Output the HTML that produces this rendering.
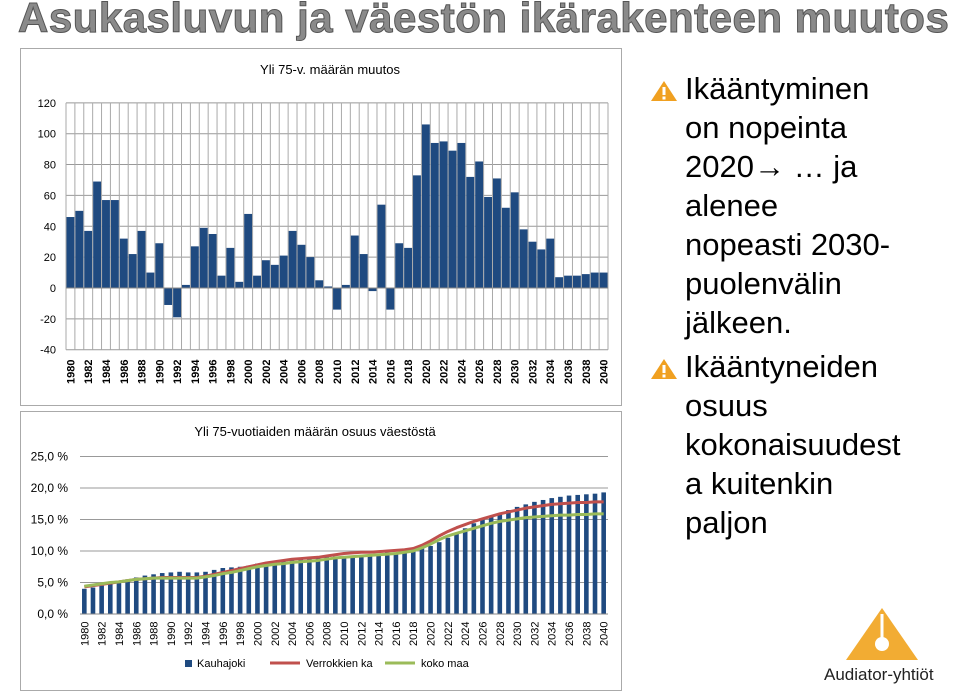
<!DOCTYPE html>
<html><head><meta charset="utf-8"><style>
body{margin:0;width:960px;height:691px;overflow:hidden;background:#fff;font-family:"Liberation Sans",sans-serif;position:relative}
.title{position:absolute;left:18px;top:-6px;font-size:42px;font-weight:bold;color:#8a8a8a;-webkit-text-stroke:1px #555;letter-spacing:0.5px;white-space:nowrap}
.frame{position:absolute;border:1px solid #aaa;background:#fff}
.bul{position:absolute;left:650px;font-size:31px;line-height:39px;color:#000;width:300px}
.warn{position:absolute;left:650px;width:28px;height:22px}
svg text{font-family:"Liberation Sans",sans-serif}
</style></head><body>
<div class="title">Asukasluvun ja väestön ikärakenteen muutos</div>
<div class="frame" style="left:20px;top:48px;width:600px;height:356px"></div>
<div class="frame" style="left:20px;top:411px;width:600px;height:278px"></div>
<svg id="chart" width="960" height="691" style="position:absolute;left:0;top:0"></svg>
<svg class="warn" style="top:80px" viewBox="0 0 28 22"><polygon points="14,1 27,21 1,21" fill="#f0a020"/><rect x="12.5" y="7" width="3" height="8" fill="#fff"/><rect x="12.5" y="16.5" width="3" height="3" fill="#fff"/></svg>
<div class="bul" style="top:69px;left:685px">Ikääntyminen<br>on nopeinta<br>2020<b>&#x2192;</b> … ja<br>alenee<br>nopeasti 2030-<br>puolenvälin<br>jälkeen.</div>
<svg class="warn" style="top:358px" viewBox="0 0 28 22"><polygon points="14,1 27,21 1,21" fill="#f0a020"/><rect x="12.5" y="7" width="3" height="8" fill="#fff"/><rect x="12.5" y="16.5" width="3" height="3" fill="#fff"/></svg>
<div class="bul" style="top:347px;left:685px;width:270px">Ikääntyneiden<br>osuus<br>kokonaisuudest<br>a kuitenkin<br>paljon</div>
<svg style="position:absolute;left:820px;top:604px" width="140" height="87">
<polygon points="62,4 98,56 26,56" fill="#f2ac33"/><rect x="60.5" y="10" width="3" height="24" fill="#fff"/><circle cx="62" cy="40" r="7" fill="#fff"/>
<text x="4" y="76" font-size="17" fill="#222">Audiator-yhtiöt</text></svg>
<script>
const years=[];for(let y=1980;y<=2040;y++)years.push(y);
const changeVals=[46,50,37,69,57,57,32,22,37,10,29,-11,-19,2,27,39,35,8,26,4,48,8,18,15,21,37,28,20,5,1,-14,2,34,22,-2,54,-14,29,26,73,106,94,95,89,94,72,82,59,71,52,62,38,30,25,32,7,8,8,9,10,10];
const topTicks=[120,100,80,60,40,20,0,-20,-40];
const shareVals=[4.0,4.2,4.5,4.8,5.1,5.5,5.8,6.1,6.3,6.5,6.6,6.7,6.6,6.6,6.7,7.0,7.3,7.4,7.5,7.7,8.0,8.1,8.3,8.4,8.5,8.7,8.8,9.0,9.1,9.1,9.1,9.0,9.3,9.5,9.6,9.8,9.7,9.8,10.0,10.4,10.8,11.4,12.1,12.9,13.6,14.4,15.0,15.6,16.0,16.5,17.0,17.4,17.8,18.1,18.4,18.6,18.8,18.9,19.0,19.1,19.3];
const refVals=[4.3,4.5,4.7,4.9,5.1,5.3,5.5,5.6,5.7,5.8,5.8,5.8,5.8,5.8,6.0,6.3,6.6,6.9,7.2,7.5,7.8,8.1,8.3,8.5,8.7,8.8,8.9,9.0,9.2,9.4,9.6,9.7,9.8,9.8,9.9,10.0,10.1,10.2,10.4,10.9,11.6,12.4,13.1,13.7,14.2,14.7,15.1,15.5,15.9,16.2,16.5,16.8,17.0,17.2,17.4,17.5,17.6,17.7,17.7,17.8,17.8];
const kokoVals=[4.4,4.6,4.8,5.0,5.1,5.3,5.5,5.6,5.7,5.7,5.7,5.7,5.7,5.7,5.9,6.1,6.4,6.6,6.9,7.2,7.5,7.7,7.9,8.0,8.2,8.3,8.4,8.5,8.7,8.9,9.0,9.1,9.2,9.3,9.4,9.5,9.6,9.8,10.0,10.5,11.1,11.8,12.4,12.8,13.2,13.6,14.0,14.4,14.7,14.9,15.1,15.3,15.4,15.5,15.6,15.7,15.7,15.8,15.8,15.9,15.9];
const botTicks=[0,5,10,15,20,25];
const svg=document.getElementById('chart');const NS='http://www.w3.org/2000/svg';
function mk(t,a,p){const e=document.createElementNS(NS,t);for(const k in a)e.setAttribute(k,a[k]);(p||svg).appendChild(e);return e;}
const tx0=66,tx1=608,n=years.length,tw=(tx1-tx0)/n;
const ty=v=>288-v*1.543;
function txc(i){return tx0+tw*(i+0.5);}
let t=mk('text',{x:330,y:74,'font-size':13,'text-anchor':'middle',fill:'#000'});t.textContent='Yli 75-v. määrän muutos';


topTicks.forEach(v=>{const l=mk('line',{x1:tx0,x2:tx1,y1:ty(v),y2:ty(v),stroke:'#999','stroke-width':1});


const s=mk('text',{x:56,y:ty(v)+4,'font-size':11,'text-anchor':'end',fill:'#000'});s.textContent=v;

});
for(let i=0;i<=n;i++){const x=tx0+tw*i;mk('line',{x1:x,x2:x,y1:ty(120),y2:ty(-40),stroke:'#aaa','stroke-width':1});}
changeVals.forEach((v,i)=>{const y0=ty(0),y1=ty(v);const r=mk('rect',{x:tx0+tw*i+0.5,y:Math.min(y0,y1),width:tw-1,height:Math.abs(y1-y0),fill:'#1f4a80'});

});
mk('line',{x1:tx0,x2:tx1,y1:ty(0),y2:ty(0),stroke:'#888','stroke-width':1});
years.forEach((y,i)=>{if(i%2)return;const s=mk('text',{transform:`translate(${txc(i)+4},384) rotate(-90)`,'font-size':11,'font-weight':'bold',fill:'#000'});s.textContent=y;

});
const bx0=80,bx1=608,bw=(bx1-bx0)/n;
const by=v=>614-v*6.3;
const bxc=i=>bx0+bw*(i+0.5);
t=mk('text',{x:315,y:436,'font-size':13,'text-anchor':'middle',fill:'#000'});t.textContent='Yli 75-vuotiaiden määrän osuus väestöstä';


botTicks.forEach(v=>{if(v>0){const l=mk('line',{x1:bx0,x2:bx1,y1:by(v),y2:by(v),stroke:'#999','stroke-width':1});

}
const s=mk('text',{x:68,y:by(v)+4,'font-size':12,'text-anchor':'end',fill:'#000'});s.textContent=v.toFixed(1).replace('.',',')+' %';

});
shareVals.forEach((v,i)=>{const r=mk('rect',{x:bxc(i)-2.3,y:by(v),width:4.6,height:by(0)-by(v),fill:'#1f4a80'});

});
mk('line',{x1:bx0,x2:bx1,y1:by(0),y2:by(0),stroke:'#888','stroke-width':1});
[[refVals,'#c0504d','verrokki-line'],[kokoVals,'#9bbb59','koko-maa-line']].forEach(([arr,c,nm])=>{
const p=mk('polyline',{points:arr.map((v,i)=>bxc(i)+','+by(v)).join(' '),fill:'none',stroke:c,'stroke-width':3,'stroke-linejoin':'round'});

});
years.forEach((y,i)=>{if(i%2)return;const s=mk('text',{transform:`translate(${bxc(i)+4},646) rotate(-90)`,'font-size':11,fill:'#000'});s.textContent=y;

});
const leg=[['#1f4a80','Kauhajoki',185,'rect'],['#c0504d','Verrokkien ka',270,'line'],['#9bbb59','koko maa',385,'line']];
leg.forEach(([c,l,x,k])=>{if(k==='rect')mk('rect',{x:x,y:660,width:7,height:7,fill:c});else mk('line',{x1:x,x2:x+30,y1:663,y2:663,stroke:c,'stroke-width':3});
const s=mk('text',{x:x+(k==='rect'?12:36),y:667,'font-size':11,fill:'#000'});s.textContent=l;

});
</script>
</body></html>
